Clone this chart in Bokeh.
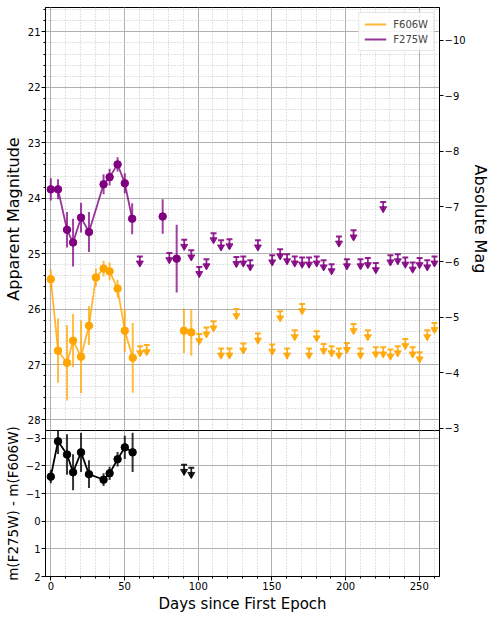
import numpy as np
from bokeh.plotting import figure
from bokeh.models import (Range1d, LinearAxis, SingleIntervalTicker, ColumnDataSource,
                          Legend, LegendItem)
from bokeh.layouts import column
from bokeh.embed import file_html
from bokeh.resources import INLINE

# ---------------- data ----------------
DM = 31.15  # distance modulus (apparent - absolute)

f606_days = [0.0, 4.9, 11.0, 15.1, 20.5, 25.9, 30.6, 35.8, 39.9, 45.3, 50.2, 55.6]
f606_mag = [25.46, 26.75, 26.97, 26.57, 26.86, 26.30, 25.43, 25.27, 25.32, 25.63, 26.39, 26.88]
f606_err = [0.18, 0.58, 0.68, 0.48, 0.66, 0.35, 0.16, 0.14, 0.16, 0.16, 0.39, 0.63]

f606_late_days = [90.3, 95.3]
f606_late_mag = [26.39, 26.42]
f606_late_err = [0.40, 0.42]

f606_lim_days = [60.6, 65.1,
                 100.7, 105.6, 110.4, 115.5, 121.2, 125.9, 130.6, 140.5, 150.2, 155.6,
                 160.3, 165.5, 170.5, 175.2, 180.4, 185.1, 190.5, 195.5, 200.9,
                 205.4, 210.1, 215.1, 220.5, 225.5, 230.4, 235.4, 240.5, 245.5, 250.2, 255.4, 260.3]
f606_lim_mag = [26.67, 26.65,
                26.45, 26.33, 26.22, 26.71, 26.71, 26.00, 26.62, 26.44, 26.64, 26.04,
                26.71, 26.38, 25.91, 26.71, 26.40, 26.63, 26.67, 26.71, 26.61,
                26.27, 26.71, 26.38, 26.69, 26.69, 26.73, 26.67, 26.54, 26.69, 26.78, 26.38, 26.25]

f275_days = [0.0, 4.9, 11.0, 15.1, 20.5, 25.9, 35.8, 39.9, 45.3, 50.2, 55.2]
f275_mag = [23.84, 23.84, 24.57, 24.80, 24.35, 24.61, 23.75, 23.62, 23.39, 23.73, 24.37]
f275_err = [0.20, 0.18, 0.32, 0.43, 0.27, 0.36, 0.18, 0.15, 0.13, 0.18, 0.28]

f275_late_days = [75.9, 85.4]
f275_late_mag = [24.33, 25.09]
f275_late_err = [0.31, 0.61]

f275_lim_days = [60.4, 80.4, 90.5, 95.3,
                 100.7, 105.6, 110.4, 115.5, 121.2, 125.9, 130.6, 135.3, 140.5, 150.2,
                 155.6, 160.3, 165.5, 170.5, 175.2, 180.4, 185.1, 190.5, 195.5, 200.9,
                 205.4, 210.1, 215.1, 220.5, 225.5, 230.4, 235.4, 240.5, 245.5, 250.2, 255.4, 260.3]
f275_lim_mag = [25.05, 24.99, 24.75, 24.94,
                25.24, 25.10, 24.63, 24.76, 24.74, 25.06, 25.05, 25.12, 24.76, 25.03,
                24.92, 25.01, 25.05, 25.07, 25.07, 25.05, 25.12, 25.19, 24.69, 25.10,
                24.58, 25.10, 25.08, 25.17, 24.07, 25.03, 25.01, 25.07, 25.16, 25.08, 25.12, 25.05]

col_days = [0.0, 4.9, 11.0, 15.1, 20.5, 25.9, 35.8, 39.9, 45.3, 50.2, 55.5]
col_val = [-1.61, -2.89, -2.41, -1.77, -2.49, -1.70, -1.50, -1.73, -2.24, -2.67, -2.49]
col_err = [0.24, 0.46, 0.73, 0.65, 0.71, 0.50, 0.23, 0.24, 0.26, 0.42, 0.71]

col_lim_days = [90.4, 95.3]
col_lim_val = [-2.04, -1.93]

# ---------------- style ----------------
FONT = "DejaVu Sans"
ORANGE = "#FFA500"
PURPLE = "#800080"
BLACK = "#000000"
X_RANGE = Range1d(-3.6, 263.7)
LEFT_B, RIGHT_B, FRAME_W = 39, 47, 394
GAP = 6      # room under the top frame for the lowest right-axis label
TOP2 = 10    # room above the bottom frame for its long axis label


def style_axis(ax, label_size="16px"):
    ax.major_label_text_font = FONT
    ax.major_label_text_font_size = "10px"
    ax.major_label_text_color = "black"
    ax.axis_label_text_font = FONT
    ax.axis_label_text_font_size = label_size
    ax.axis_label_text_font_style = "normal"
    ax.axis_label_text_color = "black"
    ax.major_tick_out = 4
    ax.major_tick_in = 0
    ax.minor_tick_out = 2
    ax.minor_tick_in = 0
    ax.major_label_standoff = 1
    ax.axis_label_standoff = 2
    ax.axis_line_color = "black"


def style_grid(p, y_minor):
    p.xgrid.grid_line_color = "#b0b0b0"
    p.ygrid.grid_line_color = "#b0b0b0"
    p.xgrid.grid_line_width = 1
    p.ygrid.grid_line_width = 1
    p.xgrid.minor_grid_line_color = "#c4c4c4"
    p.xgrid.minor_grid_line_dash = "1 2"
    if y_minor:
        p.ygrid.minor_grid_line_color = "#c4c4c4"
        p.ygrid.minor_grid_line_dash = "1 2"


def errorbars(p, days, vals, errs, color, alpha=0.75):
    d = np.asarray(days)
    v = np.asarray(vals)
    e = np.asarray(errs)
    src = ColumnDataSource(dict(x=d, lo=v - e, hi=v + e))
    p.segment("x", "lo", "x", "hi", source=src, line_color=color, line_alpha=alpha, line_width=2)


def points(p, days, vals, color):
    p.scatter(days, vals, marker="circle", size=7.5, fill_color=color, line_color=color)


def limits(p, days, vals, color, stem, tri_off, alpha=0.85):
    d = np.asarray(days)
    v = np.asarray(vals)
    src = ColumnDataSource(dict(x=d, y=v, y_end=v + stem, y_tri=v + tri_off))
    p.segment("x", "y", "x", "y_end", source=src, line_color=color, line_alpha=alpha, line_width=1.8)
    p.scatter("x", "y", source=src, marker="dash", size=6, line_color=color, line_alpha=alpha, line_width=2)
    p.scatter("x", "y_tri", source=src, marker="inverted_triangle", size=7,
              fill_color=color, line_color=color, fill_alpha=alpha, line_alpha=alpha)


# ---------------- top panel ----------------
p1 = figure(frame_width=FRAME_W, frame_height=423, x_range=X_RANGE, y_range=Range1d(28.19, 20.56),
            output_backend="svg", toolbar_location=None, x_axis_location=None,
            min_border_left=LEFT_B, min_border_right=RIGHT_B, min_border_top=7, min_border_bottom=GAP,
            background_fill_color="white", border_fill_color="white")
p1.outline_line_color = "black"
p1.outline_line_alpha = 1
p1.yaxis.ticker = SingleIntervalTicker(interval=1, num_minor_ticks=5)
p1.yaxis.axis_label = "Apparent Magnitude"
style_axis(p1.yaxis[0])
p1.xgrid.ticker = SingleIntervalTicker(interval=50, num_minor_ticks=5)
style_grid(p1, True)

p1.extra_y_ranges = {"abs": Range1d(28.19 - DM, 20.56 - DM)}
rax = LinearAxis(y_range_name="abs", axis_label="Absolute Mag",
                 ticker=SingleIntervalTicker(interval=1, num_minor_ticks=0))
rax.major_label_overrides = {v: "\u2212" + str(abs(v)) for v in range(-12, 0)}
style_axis(rax)
p1.add_layout(rax, "right")

# F606W
errorbars(p1, f606_days, f606_mag, f606_err, ORANGE)
l606 = p1.line(f606_days, f606_mag, line_color=ORANGE, line_alpha=0.8, line_width=1.8)
points(p1, f606_days, f606_mag, ORANGE)
errorbars(p1, f606_late_days, f606_late_mag, f606_late_err, ORANGE)
points(p1, f606_late_days, f606_late_mag, ORANGE)
limits(p1, f606_lim_days, f606_lim_mag, ORANGE, 0.17, 0.12)

# F275W
errorbars(p1, f275_days, f275_mag, f275_err, PURPLE)
l275 = p1.line(f275_days, f275_mag, line_color=PURPLE, line_alpha=0.8, line_width=1.8)
points(p1, f275_days, f275_mag, PURPLE)
errorbars(p1, f275_late_days, f275_late_mag, f275_late_err, PURPLE)
points(p1, f275_late_days, f275_late_mag, PURPLE)
limits(p1, f275_lim_days, f275_lim_mag, PURPLE, 0.17, 0.12)

legend = Legend(items=[LegendItem(label="F606W", renderers=[l606]),
                       LegendItem(label="F275W", renderers=[l275])],
                location="top_right")
legend.label_text_font = FONT
legend.label_text_font_size = "10px"
legend.label_height = 12
legend.glyph_width = 22
legend.glyph_height = 12
legend.spacing = 3
legend.padding = 5
legend.margin = 5
legend.label_standoff = 7
legend.border_line_color = "#cccccc"
legend.border_line_width = 1
legend.background_fill_alpha = 0.85
p1.add_layout(legend)

# ---------------- bottom panel ----------------
p2 = figure(frame_width=FRAME_W, frame_height=146, x_range=X_RANGE, y_range=Range1d(2, -3.28),
            output_backend="svg", toolbar_location=None,
            min_border_left=LEFT_B, min_border_right=RIGHT_B, min_border_top=TOP2, min_border_bottom=0,
            background_fill_color="white", border_fill_color="white", border_fill_alpha=0)
p2.margin = (-(GAP + TOP2), 0, 0, 0)
p2.outline_line_color = "black"
p2.outline_line_alpha = 1
p2.xaxis.ticker = SingleIntervalTicker(interval=50, num_minor_ticks=5)
p2.yaxis.ticker = SingleIntervalTicker(interval=1, num_minor_ticks=0)
p2.yaxis.major_label_overrides = {v: "\u2212" + str(abs(v)) for v in range(-5, 0)}
p2.xaxis.axis_label = "Days since First Epoch"
p2.yaxis.axis_label = "m(F275W) - m(F606W)"
style_axis(p2.xaxis[0], label_size="15px")
style_axis(p2.yaxis[0], label_size="13.5px")
style_grid(p2, False)

errorbars(p2, col_days, col_val, col_err, BLACK, alpha=0.8)
p2.line(col_days, col_val, line_color=BLACK, line_width=1.8)
points(p2, col_days, col_val, BLACK)
limits(p2, col_lim_days, col_lim_val, BLACK, 0.34, 0.24)

layout = column(p1, p2, spacing=0)
open("out.html", "w").write(file_html(layout, INLINE))
